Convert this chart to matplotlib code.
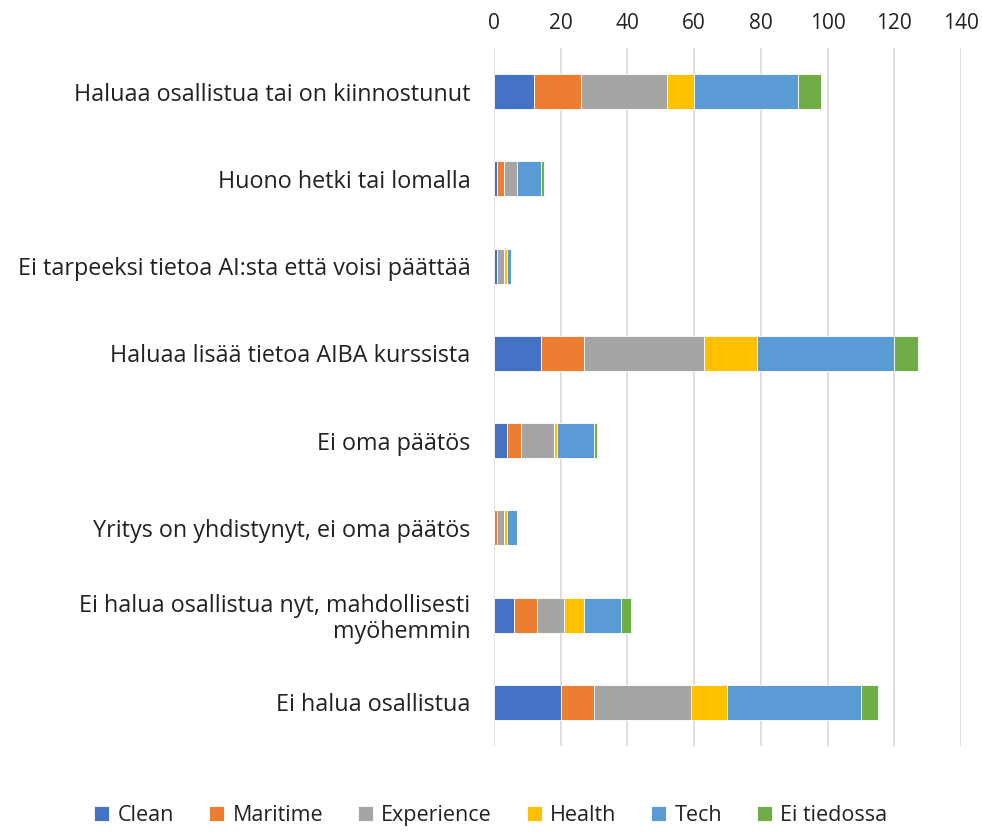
import matplotlib.pyplot as plt
import numpy as np

plt.rcParams['font.family'] = ['Open Sans', 'DejaVu Sans']

categories = [
    "Haluaa osallistua tai on kiinnostunut",
    "Huono hetki tai lomalla",
    "Ei tarpeeksi tietoa AI:sta että voisi päättää",
    "Haluaa lisää tietoa AIBA kurssista",
    "Ei oma päätös",
    "Yritys on yhdistynyt, ei oma päätös",
    "Ei halua osallistua nyt, mahdollisesti\nmyöhemmin",
    "Ei halua osallistua",
]

clean = [12, 1, 1, 14, 4, 0, 6, 20]
maritime = [14, 2, 0, 13, 4, 1, 7, 10]
experience = [26, 4, 2, 36, 10, 2, 8, 29]
health = [8, 0, 1, 16, 1, 1, 6, 11]
tech = [31, 7, 1, 41, 11, 3, 11, 40]
ei_tiedossa = [7, 1, 0, 7, 1, 0, 3, 5]

series = ["Clean", "Maritime", "Experience", "Health", "Tech", "Ei tiedossa"]
colors = ["#4472C4", "#ED7D31", "#A5A5A5", "#FFC000", "#5B9BD5", "#70AD47"]


def main():
    fig = plt.figure(figsize=(9.82, 8.32), dpi=100)
    ax = fig.add_axes([0.503, 0.1034, 0.4756, 0.839])

    y = np.arange(len(categories))
    left = np.zeros(len(categories))
    for name, vals, c in zip(series, [clean, maritime, experience, health, tech, ei_tiedossa], colors):
        vals = np.array(vals, dtype=float)
        ax.barh(y, vals, left=left, height=0.4, color=c, label=name,
                edgecolor='white', linewidth=0.6, zorder=3)
        left += vals

    ax.set_ylim(len(categories) - 0.5, -0.5)
    ax.set_xlim(0, 140)
    ax.set_xticks(np.arange(0, 141, 20))
    ax.xaxis.tick_top()
    ax.tick_params(axis='x', length=0, pad=10, labelsize=15, colors='#222222')
    ax.set_yticks(y)
    ax.set_yticklabels(categories, fontsize=16.8, color='#222222', ha='right',
                       multialignment='right', linespacing=1.1)
    ax.tick_params(axis='y', length=0, pad=17)
    ax.grid(axis='x', color='#d9d9d9', linewidth=1.2, zorder=0)
    for s in ax.spines.values():
        s.set_visible(False)

    fig.legend(loc='lower center', bbox_to_anchor=(0.5, -0.016), ncol=6, frameon=False,
               fontsize=15.5, handlelength=0.7, handleheight=0.7, handletextpad=0.4,
               columnspacing=1.6, labelcolor='#222222')

    fig.savefig('out.png', dpi=100)


if __name__ == "__main__":
    main()
